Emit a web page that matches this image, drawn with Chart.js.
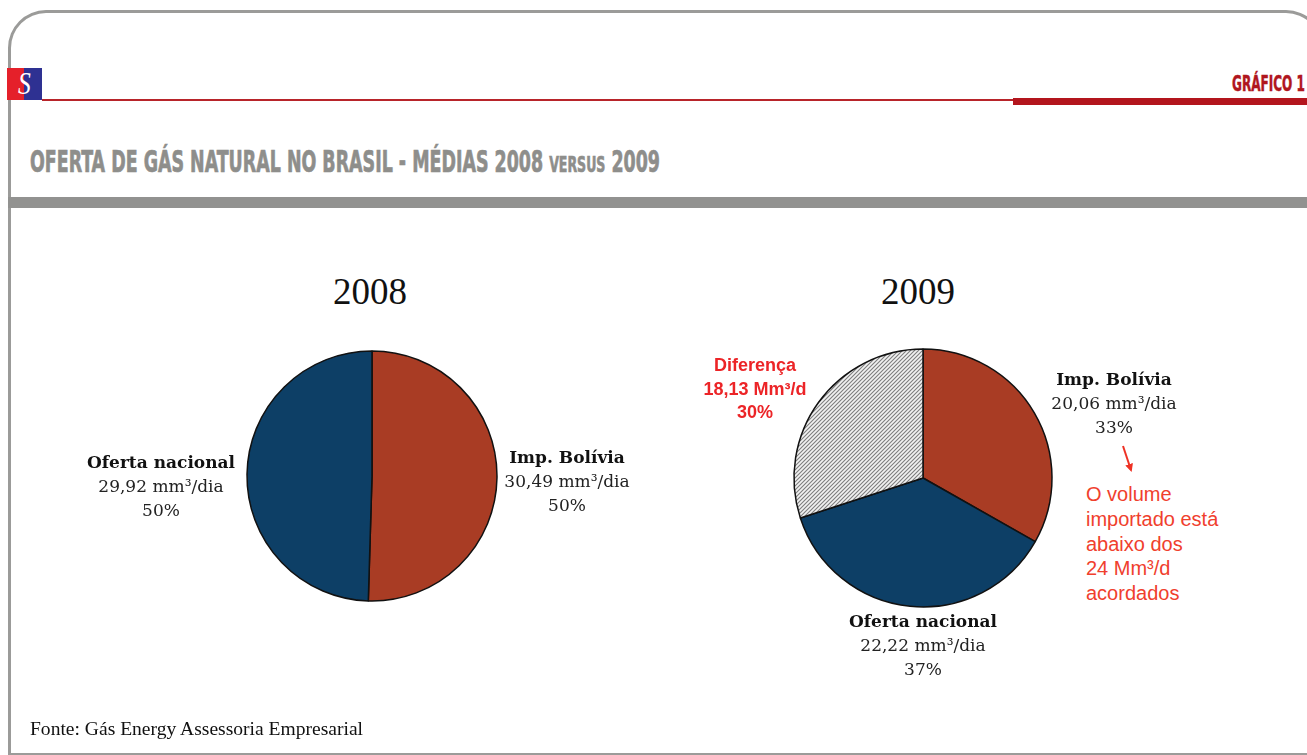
<!DOCTYPE html>
<html lang="pt">
<head>
    <meta charset="UTF-8">
    <title>Oferta de gás natural no Brasil - médias 2008 versus 2009</title>
    <script src="https://cdn.jsdelivr.net/npm/chart.js"></script>
    <style>
        html, body { margin: 0; padding: 0; background: #fff; }
        body { width: 1307px; height: 755px; position: relative; overflow: hidden; }
        .frame {
            position: absolute; left: 8px; top: 10px; width: 1310px; height: 740px;
            border: 3px solid #9b9b99; border-bottom-width: 2px;
            border-radius: 38px 38px 0 0;
        }
        .abs { position: absolute; white-space: nowrap; }
        .logo-r { left: 7px; top: 68px; width: 17px; height: 32px; background: #e5202a; }
        .logo-b { left: 24px; top: 68px; width: 18px; height: 32px; background: #2e3192; }
        .logo-s { left: 7px; top: 66px; width: 35px; text-align: center; color: #fff;
                  font: italic 32px "Liberation Serif", serif; line-height: 34px; transform: scaleX(0.8); }
        .redline { left: 42px; top: 99px; width: 972px; height: 2px; background: #b8242a; }
        .redbar { left: 1013px; top: 98px; width: 300px; height: 7px; background: #b3151d; }
        .grafico { right: 2px; top: 73px; color: #b0161e; font: bold 21.5px "DejaVu Sans Condensed", "DejaVu Sans", sans-serif;
                   line-height: 21px; transform-origin: right center; -webkit-text-stroke: 0.5px #b0161e; }
        .title { left: 30px; top: 147px; color: #8e8e8b; font: bold 30px "DejaVu Sans Condensed", "DejaVu Sans", sans-serif;
                 line-height: 29px; transform-origin: left center; -webkit-text-stroke: 0.7px #8e8e8b; }
        .title small { font-size: 0.72em; }
        .graybar { left: 8px; top: 197px; width: 1310px; height: 11px; background: #929290; }
        .year { font: 37px "Liberation Serif", serif; line-height: 40px; color: #111; transform: translateX(-50%); }
        .lbl { font: 17px "DejaVu Serif", serif; line-height: 24px; color: #222; text-align: center; transform: translateX(-50%); }
        .lbl b { color: #111; }
        .dif { font: bold 18px "Liberation Sans", Arial, sans-serif; line-height: 23.5px; color: #ec2427; text-align: center; transform: translateX(-50%); }
        .note { font: 20px "Liberation Sans", Arial, sans-serif; line-height: 24.8px; color: #f0402d; }
        .fonte { left: 30px; top: 719px; font: 18px "Liberation Serif", serif; line-height: 20px; color: #111; transform-origin: left center; }
        canvas { position: absolute; }
        svg { position: absolute; left: 0; top: 0; }
    </style>
</head>
<body>
<div class="frame"></div>
<div class="abs logo-r"></div>
<div class="abs logo-b"></div>
<div class="abs logo-s">S</div>
<div class="abs redline"></div>
<div class="abs redbar"></div>
<div class="abs grafico" id="grafico">GRÁFICO 1</div>
<div class="abs title" id="title">OFERTA DE GÁS NATURAL NO BRASIL - MÉDIAS 2008 <small>VERSUS</small> 2009</div>
<div class="abs graybar"></div>

<div class="abs year" style="left:370px; top:272px;">2008</div>
<div class="abs year" style="left:918px; top:272px;">2009</div>

<canvas id="pie2008" width="280" height="280" style="left:232px; top:336px;"></canvas>
<canvas id="pie2009" width="280" height="280" style="left:783px; top:338px;"></canvas>

<div id="labels"></div>

<div class="abs note" style="left:1086px; top:482px;">O volume<br>importado está<br>abaixo dos<br>24 Mm³/d<br>acordados</div>

<svg width="1307" height="755">
    <defs>
        <marker id="head" markerWidth="8" markerHeight="8" refX="6" refY="4" orient="auto" markerUnits="userSpaceOnUse">
            <path d="M0,0 L8,4 L0,8 z" fill="#ee3124"></path>
        </marker>
    </defs>
    <line x1="1123" y1="446" x2="1131" y2="470" stroke="#ee3124" stroke-width="2" marker-end="url(#head)"></line>
</svg>

<div class="abs fonte" id="fonte">Fonte: Gás Energy Assessoria Empresarial</div>

<script>
    // valores em mm³/dia
    const labels2008 = ['Imp. Bolívia', 'Oferta nacional'];
    const values2008 = [30.49, 29.92];
    const valueText2008 = ['30,49 mm³/dia', '29,92 mm³/dia'];
    const pct2008 = ['50%', '50%'];

    const labels2009 = ['Imp. Bolívia', 'Oferta nacional', 'Diferença'];
    const values2009 = [20.06, 22.22, 18.13];
    const valueText2009 = ['20,06 mm³/dia', '22,22 mm³/dia', '18,13 Mm³/d'];
    const pct2009 = ['33%', '37%', '30%'];

    const RED = '#a93c24';
    const BLUE = '#0d3f66';

    function hatchPattern() {
        const c = document.createElement('canvas');
        c.width = 4; c.height = 4;
        const g = c.getContext('2d');
        g.fillStyle = '#f2f2f2';
        g.fillRect(0, 0, 4, 4);
        g.strokeStyle = '#7d7d7d';
        g.lineWidth = 1.1;
        g.beginPath();
        g.moveTo(0, 4); g.lineTo(4, 0);
        g.moveTo(-1, 1); g.lineTo(1, -1);
        g.moveTo(3, 5); g.lineTo(5, 3);
        g.stroke();
        return g.createPattern(c, 'repeat');
    }

    function makePie(id, labels, values, colors, radius) {
        new Chart(document.getElementById(id), {
            type: 'pie',
            data: {
                labels: labels,
                datasets: [{
                    data: values,
                    backgroundColor: colors,
                    borderColor: '#111',
                    borderWidth: 1.5
                }]
            },
            options: {
                responsive: false,
                animation: false,
                radius: radius,
                layout: { padding: 0 },
                plugins: { legend: { display: false }, tooltip: { enabled: false } }
            }
        });
    }

    makePie('pie2008', labels2008, values2008, [RED, BLUE], 125);
    makePie('pie2009', labels2009, values2009, [RED, BLUE, hatchPattern()], 129);

    // rótulos das fatias
    const box = document.getElementById('labels');
    function addLabel(cls, x, y, lines) {
        const d = document.createElement('div');
        d.className = 'abs ' + cls;
        d.style.left = x + 'px';
        d.style.top = y + 'px';
        d.innerHTML = lines.join('<br>');
        box.appendChild(d);
    }
    addLabel('lbl', 567, 445, ['<b>' + labels2008[0] + '</b>', valueText2008[0], pct2008[0]]);
    addLabel('lbl', 161, 450, ['<b>' + labels2008[1] + '</b>', valueText2008[1], pct2008[1]]);
    addLabel('lbl', 1114, 367, ['<b>' + labels2009[0] + '</b>', valueText2009[0], pct2009[0]]);
    addLabel('lbl', 923, 609, ['<b>' + labels2009[1] + '</b>', valueText2009[1], pct2009[1]]);
    addLabel('dif', 755, 354, [labels2009[2], valueText2009[2], pct2009[2]]);

    // textos condensados/largos: ajusta largura
    function fitWidth(id, target) {
        const el = document.getElementById(id);
        const w = el.getBoundingClientRect().width;
        el.style.transform = 'scaleX(' + (target / w) + ')';
    }
    fitWidth('title', 630);
    fitWidth('grafico', 73);
    fitWidth('fonte', 333);
</script>
</body>
</html>
